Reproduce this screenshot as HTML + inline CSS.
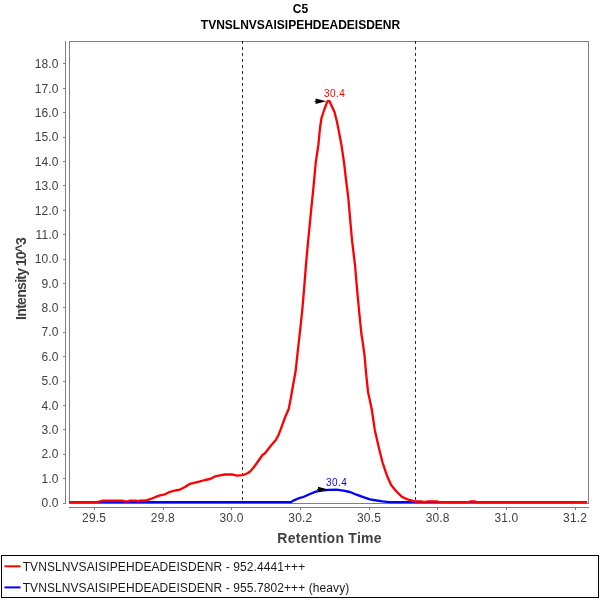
<!DOCTYPE html>
<html><head><meta charset="utf-8"><title>C5 chromatogram</title>
<style>html,body{margin:0;padding:0;background:#fff}svg{display:block}text{font-family:"Liberation Sans",sans-serif}</style></head><body>
<svg width="600" height="600" viewBox="0 0 600 600">
<rect width="600" height="600" fill="#fff"/>
<g font-size="12" font-weight="bold" fill="#000" text-anchor="middle"><text x="300.5" y="12.5">C5</text><text x="300.5" y="28.5">TVNSLNVSAISIPEHDEADEISDENR</text></g>
<rect x="69.5" y="41.5" width="519" height="462" fill="none" stroke="#808080" stroke-width="1"/>
<g stroke="#808080" stroke-width="1" fill="none">
<line x1="65.5" y1="41" x2="65.5" y2="504"/>
<line x1="69" y1="507.5" x2="589" y2="507.5"/>
<line x1="94.5" y1="508" x2="94.5" y2="510"/>
<line x1="163.5" y1="508" x2="163.5" y2="510"/>
<line x1="231.5" y1="508" x2="231.5" y2="510"/>
<line x1="300.5" y1="508" x2="300.5" y2="510"/>
<line x1="369.5" y1="508" x2="369.5" y2="510"/>
<line x1="437.5" y1="508" x2="437.5" y2="510"/>
<line x1="506.5" y1="508" x2="506.5" y2="510"/>
<line x1="575.5" y1="508" x2="575.5" y2="510"/>
<line x1="63" y1="503.5" x2="65" y2="503.5"/>
<line x1="63" y1="478.5" x2="65" y2="478.5"/>
<line x1="63" y1="454.5" x2="65" y2="454.5"/>
<line x1="63" y1="429.5" x2="65" y2="429.5"/>
<line x1="63" y1="405.5" x2="65" y2="405.5"/>
<line x1="63" y1="381.5" x2="65" y2="381.5"/>
<line x1="63" y1="356.5" x2="65" y2="356.5"/>
<line x1="63" y1="332.5" x2="65" y2="332.5"/>
<line x1="63" y1="307.5" x2="65" y2="307.5"/>
<line x1="63" y1="283.5" x2="65" y2="283.5"/>
<line x1="63" y1="259.5" x2="65" y2="259.5"/>
<line x1="63" y1="234.5" x2="65" y2="234.5"/>
<line x1="63" y1="210.5" x2="65" y2="210.5"/>
<line x1="63" y1="185.5" x2="65" y2="185.5"/>
<line x1="63" y1="161.5" x2="65" y2="161.5"/>
<line x1="63" y1="137.5" x2="65" y2="137.5"/>
<line x1="63" y1="112.5" x2="65" y2="112.5"/>
<line x1="63" y1="88.5" x2="65" y2="88.5"/>
<line x1="63" y1="63.5" x2="65" y2="63.5"/>
</g>
<g font-size="12" fill="#404040" letter-spacing="0.15">
<g text-anchor="middle">
<text x="94.1" y="522">29.5</text>
<text x="162.8" y="522">29.8</text>
<text x="231.5" y="522">30.0</text>
<text x="300.3" y="522">30.2</text>
<text x="369.0" y="522">30.5</text>
<text x="437.7" y="522">30.8</text>
<text x="506.4" y="522">31.0</text>
<text x="575.1" y="522">31.2</text>
</g><g text-anchor="end">
<text x="58.65" y="507">0.0</text>
<text x="58.65" y="483">1.0</text>
<text x="58.65" y="458">2.0</text>
<text x="58.65" y="434">3.0</text>
<text x="58.65" y="410">4.0</text>
<text x="58.65" y="385">5.0</text>
<text x="58.65" y="361">6.0</text>
<text x="58.65" y="336">7.0</text>
<text x="58.65" y="312">8.0</text>
<text x="58.65" y="288">9.0</text>
<text x="58.65" y="263">10.0</text>
<text x="58.65" y="239">11.0</text>
<text x="58.65" y="215">12.0</text>
<text x="58.65" y="190">13.0</text>
<text x="58.65" y="166">14.0</text>
<text x="58.65" y="141">15.0</text>
<text x="58.65" y="117">16.0</text>
<text x="58.65" y="93">17.0</text>
<text x="58.65" y="68">18.0</text>
</g></g>
<g font-size="14" font-weight="bold" fill="#404040" text-anchor="middle">
<text x="329.6" y="543.3" letter-spacing="0.26">Retention Time</text>
<text transform="translate(25.7,319.9) rotate(-90)" text-anchor="start"><tspan x="0" textLength="52" lengthAdjust="spacing">Intensity</tspan><tspan x="53.6" textLength="29" lengthAdjust="spacing">10^3</tspan></text>
</g>
<g stroke="#1a1a1a" stroke-width="1" stroke-dasharray="2.7,3.3" fill="none"><line x1="242.5" y1="41.1" x2="242.5" y2="503"/><line x1="415.5" y1="41.1" x2="415.5" y2="503"/></g>
<polyline points="69.5,502.2 290.8,502.2 293.3,500.6 300,497.8 303.3,497 310,494 315.8,491.6 321.7,490.6 328.3,489.8 336.7,489.6 343.3,490.6 350,492 356.5,494.7 363.3,497.2 370,499.3 373.8,500 382.5,501.4 389,502.1 587,502.2" fill="none" stroke="#0000ff" stroke-width="2.3" stroke-linejoin="round"/>
<polyline points="69.5,502.1 97,502.1 99,501.6 103,500.6 122,500.6 125,501.4 128,501.4 130,500.7 136,500.6 138,501.3 140,500.6 146,500.5 150,499.2 155,497.2 160,495.4 165,494.3 170,491.8 175,490.5 180,489.6 185,487 190,483.8 195,482.6 200,481.4 205,480 210,479 215,476.4 220,475.4 225,474.5 232,474.4 237,475.6 242,475.1 245,474.3 248,473 250.8,470.8 254,467 256.7,463.3 262.5,455 265,453.2 270.8,445.8 275.8,440 278.5,435 280.8,429.2 285,417.5 288.7,409 290.8,398.3 292.5,388.3 295.6,371.3 297.9,350 300.3,328.7 302.3,310 304.1,288.7 306,264.7 307.9,243.3 309.2,230 311.1,210.7 313.5,186.9 315.7,163 318.4,144.7 320,128 321.5,118 324.5,109 326.8,102.8 327.6,101.2 329.6,101.2 330.2,102.8 334.5,112 337,122 339,132 341.4,144.7 344.1,163 346,179.5 348.3,197.9 350.2,219.9 352,240 355.1,266 357.1,290 359.4,314 361.4,334 362.4,340 364.5,355 366.2,374.5 368,391.7 371.7,409 374.8,430 379.2,449.3 382.5,462.3 386.8,475.2 391.1,485 396.5,491.5 402,496.9 408.4,499.7 412,500.7 415,501.5 422,501.5 423.5,502 425.5,502 427,501.5 437.5,501.5 439,502.1 469,502.1 470,501.5 475,501.5 476,502.1 587,502.1" fill="none" stroke="#ff0000" stroke-width="2.3" stroke-linejoin="round"/>
<path d="M315.6,98.5 L326.3,101.3 L315.6,104.1 Z M314.6,100.8 h1.2 v1 h-1.2 Z" fill="#000"/>
<path d="M318,486.7 L328.3,489.4 L318,492.1 Z M317,488.9 h1.2 v1 h-1.2 Z" fill="#000"/>
<g font-size="10" letter-spacing="0.4"><text x="324.1" y="97" fill="#ff0000">30.4</text><text x="326.1" y="486.2" fill="#0000ff">30.4</text></g>
<rect x="1.5" y="555.5" width="597" height="42" fill="#fff" stroke="#000" stroke-width="1"/>
<line x1="4.5" y1="566.3" x2="20.5" y2="566.3" stroke="#ff0000" stroke-width="2"/>
<line x1="4.5" y1="587.4" x2="20.5" y2="587.4" stroke="#0000ff" stroke-width="2"/>
<g font-size="12" fill="#1a1a1a" letter-spacing="0.088"><text x="22.65" y="570.5">TVNSLNVSAISIPEHDEADEISDENR - 952.4441+++</text><text x="22.65" y="591.6">TVNSLNVSAISIPEHDEADEISDENR - 955.7802+++ (heavy)</text></g>
</svg></body></html>
